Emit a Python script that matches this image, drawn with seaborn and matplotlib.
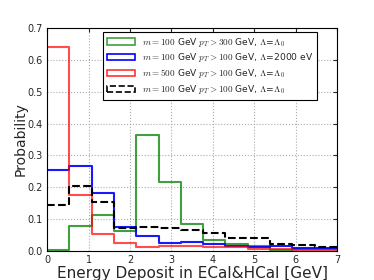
import numpy as np
import pandas as pd
import matplotlib
matplotlib.use("Agg")
import matplotlib.pyplot as plt
from matplotlib.patches import Patch
import seaborn as sns

# 13 bins between 0 and 7 GeV
edges = list(np.linspace(0, 7, 14))
centers = [(edges[i] + edges[i + 1]) / 2 for i in range(13)]

green_300 = [0.003, 0.077, 0.113, 0.063, 0.365, 0.217, 0.084, 0.035, 0.021, 0.016, 0.002, 0.006, 0.005]
blue_2000 = [0.253, 0.267, 0.181, 0.076, 0.047, 0.025, 0.027, 0.022, 0.016, 0.012, 0.015, 0.010, 0.008]
red_500 = [0.640, 0.174, 0.053, 0.024, 0.012, 0.015, 0.015, 0.011, 0.011, 0.007, 0.007, 0.004, 0.002]
black_100 = [0.143, 0.203, 0.155, 0.072, 0.075, 0.073, 0.067, 0.055, 0.039, 0.039, 0.021, 0.017, 0.011]

labels = [r"$m=100$ GeV $p_T>300$ GeV, $\Lambda$=$\Lambda_0$",
          r"$m=100$ GeV $p_T>100$ GeV, $\Lambda$=2000 eV",
          r"$m=500$ GeV $p_T>100$ GeV, $\Lambda$=$\Lambda_0$",
          r"$m=100$ GeV $p_T>100$ GeV, $\Lambda$=$\Lambda_0$"]

sns.set_style("white")
plt.rcParams['font.family'] = ['DejaVu Sans']
plt.rcParams['mathtext.fontset'] = 'cm'

fig = plt.figure(figsize=(3.74, 2.8), dpi=100)
ax = fig.add_axes([0.126, 0.104, 0.775, 0.796])

series = [(green_300, 'g', '-', 0.75), (blue_2000, 'b', '-', 0.9),
          (red_500, 'r', '-', 0.7), (black_100, 'k', '--', 1.0)]
for vals, col, ls, a in series:
    df = pd.DataFrame({'energy': centers, 'prob': vals})
    sns.histplot(data=df, x='energy', weights='prob', bins=edges, element='step', fill=False,
                 color=col, linestyle=ls, linewidth=1.5, alpha=a, ax=ax)

ax.set_xlim(0, 7)
ax.set_ylim(0, 0.7)
ax.set_xticks(range(8))
ax.set_yticks(np.arange(0, 0.71, 0.1))
ax.set_yticklabels(["%.1f" % v for v in np.arange(0, 0.71, 0.1)])
ax.tick_params(labelsize=7, direction='in', length=3, top=True, right=True, pad=3)
ax.grid(True, color='#aaaaaa', linestyle=':', linewidth=0.8)
for s in ax.spines.values():
    s.set_color('k')
    s.set_linewidth(0.8)

ax.set_xlabel("Energy Deposit in ECal&HCal [GeV]", fontsize=11, labelpad=1)
ax.set_ylabel("Probability", fontsize=10, labelpad=0)

handles = [Patch(facecolor='none', edgecolor='g', linewidth=1.2, alpha=0.75),
           Patch(facecolor='none', edgecolor='b', linewidth=1.2),
           Patch(facecolor='none', edgecolor='r', linewidth=1.2, alpha=0.8),
           Patch(facecolor='none', edgecolor='k', linewidth=1.2, linestyle='--')]
leg = ax.legend(handles, labels, loc='upper right', bbox_to_anchor=(0.931, 0.982),
                fontsize=6.6, frameon=True, fancybox=False, edgecolor='k', framealpha=1,
                borderaxespad=0, handlelength=3, labelspacing=0.3, borderpad=0.4)
leg.get_frame().set_linewidth(0.8)

fig.savefig("out.png", dpi=100)
